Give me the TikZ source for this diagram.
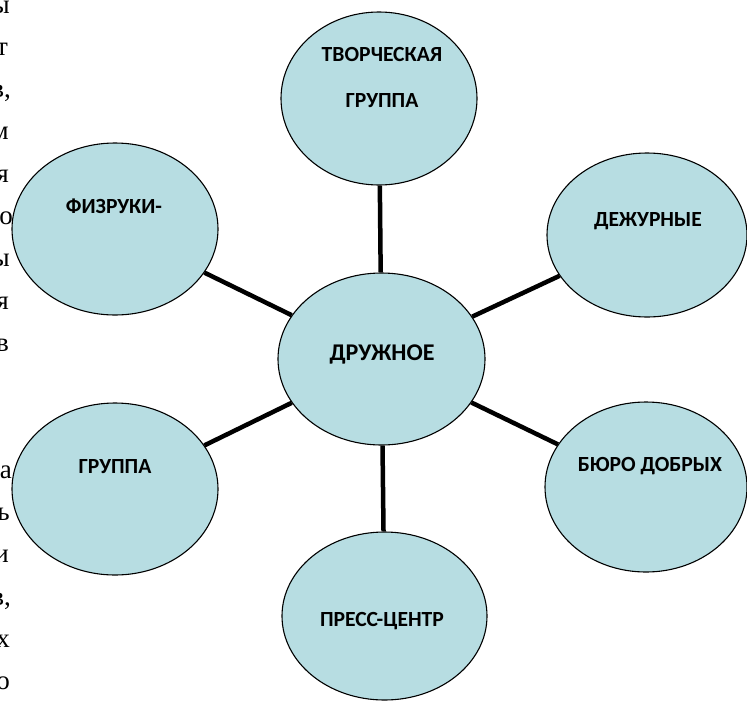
\documentclass[tikz,border=0pt]{standalone}
\usepackage{fontspec}
\usetikzlibrary{shapes.geometric}
\newfontfamily\bubblefont{Carlito}
\newfontfamily\marginfont{Liberation Serif}
\definecolor{bubblefill}{HTML}{B7DDE2}
\tikzset{
   bubble/.style = {ellipse, draw = black, line width = 1.1pt, fill = bubblefill, inner sep = 0pt},
   caption/.style = {font = \bubblefont\bfseries\fontsize{21.6}{25}\selectfont, anchor = base, inner sep = 0pt},
   link/.style = {line width = 4.5pt, black},
}
\begin{document}
\begin{tikzpicture}[x = 1pt, y = -1pt]
\useasboundingbox (0,0) rectangle (747,702);

\foreach \ch/\row/\xr in {ы/0/10, т/1/8, {в,}/2/11, м/3/9, я/4/9, о/5/13, ы/6/10, я/7/9, в/8/9,
                          а/11/12, ь/12/10, и/13/9, {в,}/14/11, х/15/10, о/16/10}
   \node[anchor = base east, inner sep = 0pt, font = \marginfont\fontsize{27}{32}\selectfont] (m\row) at (\xr, 13 + \row * 42.3) {\ch};

\node[bubble, minimum width = 207pt, minimum height = 172pt] (mid) at (381.5, 359) {};
\node[bubble, minimum width = 196pt, minimum height = 173pt] (tvor) at (379, 98.5) {};
\node[bubble, minimum width = 206pt, minimum height = 172pt] (fiz) at (115, 229) {};
\node[bubble, minimum width = 200pt, minimum height = 164pt] (dezh) at (647, 235) {};
\node[bubble, minimum width = 206pt, minimum height = 172pt] (grp) at (115, 489) {};
\node[bubble, minimum width = 202pt, minimum height = 170pt] (buro) at (646, 487) {};
\node[bubble, minimum width = 205pt, minimum height = 168pt] (press) at (384.5, 616) {};

\foreach \b in {tvor, fiz, dezh, grp, buro, press}
   \draw[link] (mid) -- (\b);

\node[caption] (tvor-a) at (382, 61.5) {ТВОРЧЕСКАЯ};
\node[caption] (tvor-b) at (382, 107) {ГРУППА};
\node[caption, font = \bubblefont\bfseries\fontsize{24}{28}\selectfont] (mid-a) at (382, 360) {ДРУЖНОЕ};
\node[caption] (fiz-a) at (114, 213) {ФИЗРУКИ-};
\node[caption] (dezh-a) at (648, 226) {ДЕЖУРНЫЕ};
\node[caption] (grp-a) at (115, 473) {ГРУППА};
\node[caption] (buro-a) at (650, 471) {БЮРО ДОБРЫХ};
\node[caption] (press-a) at (382, 626) {ПРЕСС-ЦЕНТР};
\end{tikzpicture}
\end{document}
